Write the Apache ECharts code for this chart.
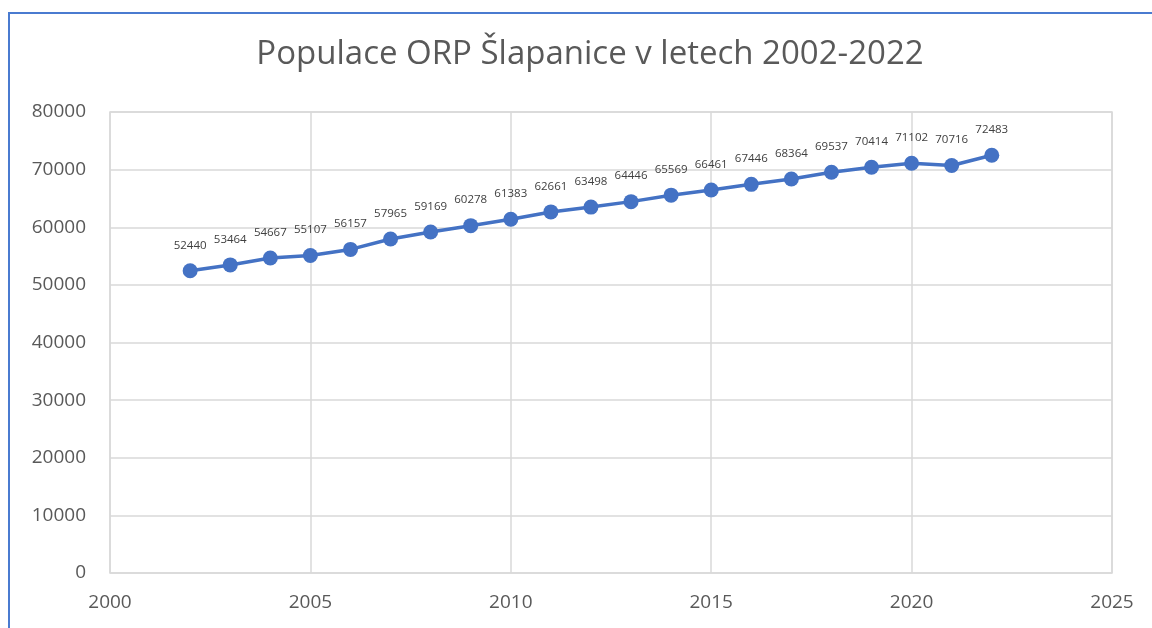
<!DOCTYPE html>
<html>
<head>
<meta charset="utf-8">
<script src="https://cdn.jsdelivr.net/npm/echarts@6/dist/echarts.min.js"></script>
<style>
  html, body { margin: 0; padding: 0; background: #fff; }
  #frame {
    position: absolute; left: 8px; top: 12px; width: 1160px; height: 640px;
    border-left: 2px solid #4a7bd0; border-top: 2px solid #4a7bd0;
  }
  #chart { position: absolute; left: 0; top: 0; width: 1152px; height: 628px; }
</style>
</head>
<body>
<div id="frame"></div>
<div id="chart"></div>
<script>
// roky a počet obyvatel ORP Šlapanice
var years = [2002, 2003, 2004, 2005, 2006, 2007, 2008, 2009, 2010, 2011, 2012,
             2013, 2014, 2015, 2016, 2017, 2018, 2019, 2020, 2021, 2022];
var population = [52440, 53464, 54667, 55107, 56157, 57965, 59169, 60278, 61383, 62661, 63498,
                  64446, 65569, 66461, 67446, 68364, 69537, 70414, 71102, 70716, 72483];

var points = [];
for (var i = 0; i < years.length; i++) {
    points.push([years[i], population[i]]);
}

// bez oddělovačů tisíců
function plain(v) { return String(v); }

var myChart = echarts.init(document.getElementById('chart'));
var option = {
    animation: false,
    title: {
        text: 'Populace ORP Šlapanice v letech 2002-2022',
        left: 585,
        top: 33,
        textAlign: 'center',
        textStyle: {
            fontFamily: 'Open Sans',
            fontWeight: 'normal',
            fontSize: 33,
            color: '#595959'
        }
    },
    grid: {
        left: 110,
        top: 112,
        width: 1002,
        height: 461
    },
    xAxis: {
        type: 'value',
        min: 2000,
        max: 2025,
        interval: 5,
        axisLine: { show: false },
        axisTick: { show: false },
        splitLine: { lineStyle: { color: '#d9d9d9', width: 1.5 } },
        axisLabel: {
            margin: 20,
            formatter: plain,
            fontFamily: 'Open Sans',
            fontSize: 19,
            color: '#595959'
        }
    },
    yAxis: {
        type: 'value',
        min: 0,
        max: 80000,
        interval: 10000,
        axisLine: { show: false },
        axisTick: { show: false },
        splitLine: { lineStyle: { color: '#d9d9d9', width: 1.5 } },
        axisLabel: {
            margin: 24,
            formatter: plain,
            fontFamily: 'Open Sans',
            fontSize: 19,
            color: '#595959'
        }
    },
    graphic: [{
        type: 'rect',
        shape: { x: 110, y: 112, width: 1002, height: 461 },
        style: { fill: 'none', stroke: '#d9d9d9', lineWidth: 1.5 },
        silent: true
    }],
    series: [{
        type: 'line',
        data: points,
        symbol: 'circle',
        symbolSize: 15,
        lineStyle: { color: '#4472c4', width: 3.5 },
        itemStyle: { color: '#4472c4' },
        label: {
            show: true,
            position: 'top',
            distance: 12,
            fontFamily: 'Open Sans',
            fontSize: 11.5,
            color: '#404040'
        }
    }]
};
myChart.setOption(option);
</script>
</body>
</html>
